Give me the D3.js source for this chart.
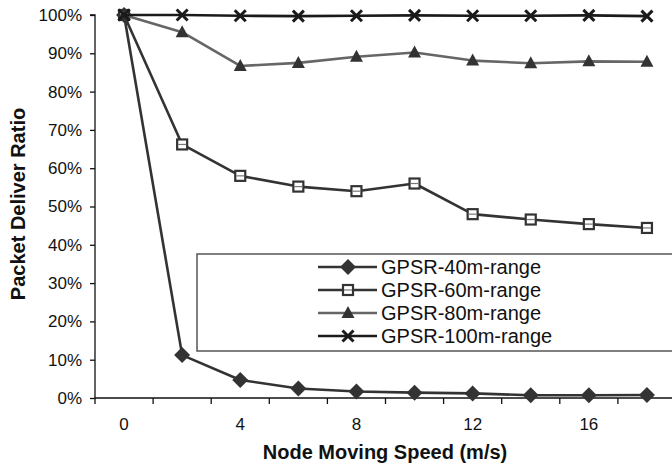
<!DOCTYPE html>
<html><head><meta charset="utf-8">
<script src="https://cdn.jsdelivr.net/npm/d3@7"></script>
<style>html,body{margin:0;padding:0;background:#fff;overflow:hidden}</style>
</head><body>
<svg id="c" width="672" height="464"></svg>
<script>
const speeds = [0, 2, 4, 6, 8, 10, 12, 14, 16, 18];
const gpsr40 = [100, 11.2, 4.7, 2.5, 1.7, 1.4, 1.2, 0.7, 0.7, 0.8];
const gpsr60 = [100, 66.2, 58.0, 55.2, 54.0, 56.0, 48.0, 46.6, 45.4, 44.4];
const gpsr80 = [100, 95.5, 86.7, 87.5, 89.1, 90.2, 88.1, 87.4, 87.9, 87.8];
const gpsr100 = [100, 100, 99.8, 99.7, 99.8, 99.9, 99.8, 99.8, 99.9, 99.7];
const seriesNames = ["GPSR-40m-range", "GPSR-60m-range", "GPSR-80m-range", "GPSR-100m-range"];
const yTicks = [0, 10, 20, 30, 40, 50, 60, 70, 80, 90, 100];
const xLabels = [0, 4, 8, 12, 16];

(function () {
const svg = d3.select("#c");
const font = "'Liberation Sans', Arial, Helvetica, sans-serif";
const mLeft = 95, mTop = 15, mBottom = 398;
const x = d3.scaleBand().domain(speeds).range([mLeft, mLeft + 58.1 * speeds.length]).paddingInner(0).paddingOuter(0);
const y = d3.scaleLinear().domain([0, 100]).range([mBottom, mTop]);
const cx = v => x(v) + x.bandwidth() / 2;

// Y axis
const yAxis = d3.axisLeft(y).tickValues(yTicks).tickSize(5).tickPadding(8).tickFormat(d => d + "%");
const gy = svg.append("g").attr("transform", `translate(${mLeft},0)`).call(yAxis);
gy.select(".domain").attr("stroke", "#111").attr("stroke-width", 1.3).attr("d", `M-5,${mTop}H0V${mBottom}`);
gy.selectAll(".tick line").attr("stroke", "#111").attr("stroke-width", 1.3);
gy.selectAll(".tick text").attr("font-family", font).attr("font-size", 17).attr("fill", "#111");

// X axis
const gx = svg.append("g").attr("transform", `translate(0,${mBottom})`);
gx.append("line").attr("x1", mLeft).attr("x2", 700).attr("y1", 0).attr("y2", 0).attr("stroke", "#111").attr("stroke-width", 1.3);
gx.selectAll("line.t").data(speeds).enter().append("line").attr("class", "t")
  .attr("x1", d => x(d)).attr("x2", d => x(d)).attr("y1", 0).attr("y2", 6)
  .attr("stroke", "#111").attr("stroke-width", 1.3);
gx.selectAll("text").data(xLabels).enter().append("text")
  .attr("x", d => cx(d)).attr("y", 32).attr("text-anchor", "middle")
  .attr("font-family", font).attr("font-size", 17).attr("fill", "#111").text(d => d);

// Titles
svg.append("text").attr("x", 385).attr("y", 459).attr("text-anchor", "middle")
  .attr("font-family", font).attr("font-size", 20).attr("font-weight", "bold").attr("fill", "#111")
  .text("Node Moving Speed (m/s)");
svg.append("text").attr("transform", "translate(25,204) rotate(-90)").attr("text-anchor", "middle")
  .attr("font-family", font).attr("font-size", 20).attr("font-weight", "bold").attr("fill", "#111")
  .text("Packet Deliver Ratio");

// Legend box
svg.append("rect").attr("x", 197).attr("y", 254).attr("width", 520).attr("height", 97)
  .attr("fill", "#fff").attr("stroke", "#555").attr("stroke-width", 1.5);

const styles = [
  {vals: gpsr40, line: "#333", marker: "diamond"},
  {vals: gpsr60, line: "#333", marker: "square"},
  {vals: gpsr80, line: "#666", marker: "triangle"},
  {vals: gpsr100, line: "#1a1a1a", marker: "x"}
];

function drawMarker(g, type, px, py) {
  if (type === "diamond") {
    g.append("path").attr("d", `M${px},${py-8}L${px+8},${py}L${px},${py+8}L${px-8},${py}Z`).attr("fill", "#333");
  } else if (type === "square") {
    g.append("rect").attr("x", px-5).attr("y", py-5).attr("width", 10).attr("height", 10)
      .attr("fill", "#fff").attr("stroke", "#333").attr("stroke-width", 2.2);
    g.append("line").attr("x1", px-4).attr("x2", px+4).attr("y1", py).attr("y2", py).attr("stroke", "#777").attr("stroke-width", 1.2);
  } else if (type === "triangle") {
    g.append("path").attr("d", `M${px},${py-7}L${px+6.5},${py+5}L${px-6.5},${py+5}Z`).attr("fill", "#333");
  } else {
    g.append("path").attr("d", `M${px-5.5},${py-5.5}L${px+5.5},${py+5.5}M${px+5.5},${py-5.5}L${px-5.5},${py+5.5}`)
      .attr("stroke", "#1a1a1a").attr("stroke-width", 3).attr("fill", "none");
  }
}

const line = d3.line().x((d, i) => cx(speeds[i])).y(d => y(d));
styles.forEach(s => {
  const g = svg.append("g");
  g.append("path").datum(s.vals).attr("d", line).attr("fill", "none")
    .attr("stroke", s.line).attr("stroke-width", 2.6).attr("stroke-linejoin", "round");
  s.vals.forEach((v, i) => drawMarker(g, s.marker, cx(speeds[i]), y(v)));
});

// Legend entries
const legY = [267, 290, 313, 336];
styles.forEach((s, i) => {
  const g = svg.append("g");
  g.append("line").attr("x1", 318).attr("x2", 377).attr("y1", legY[i]).attr("y2", legY[i])
    .attr("stroke", s.line).attr("stroke-width", 2.6);
  drawMarker(g, s.marker, 348, legY[i]);
  g.append("text").attr("x", 381).attr("y", legY[i] + 7).attr("font-family", font).attr("font-size", 20)
    .attr("fill", "#111").text(seriesNames[i]);
});
})();
</script>
</body></html>
